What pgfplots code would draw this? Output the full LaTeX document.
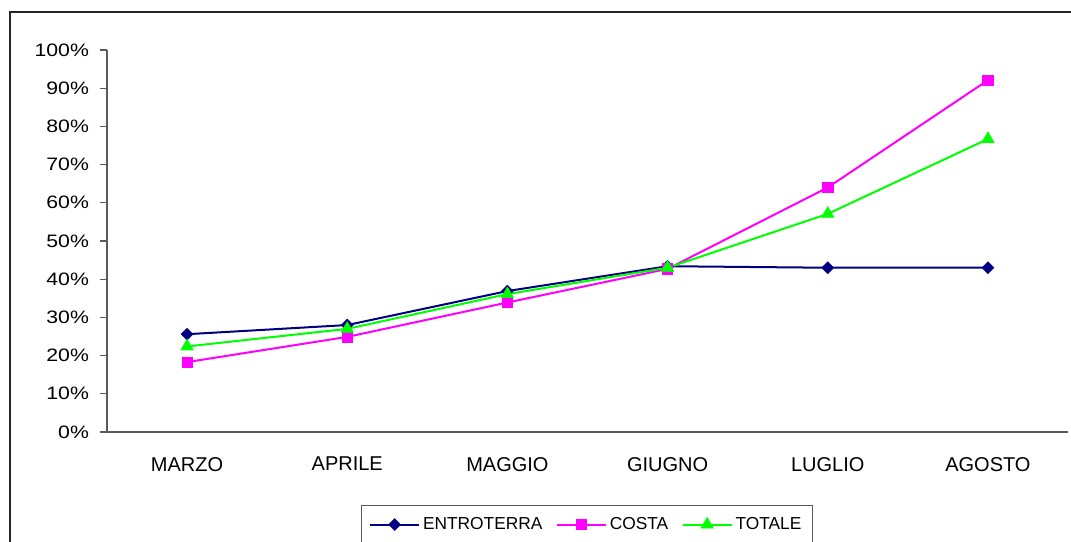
\documentclass[border=0pt]{standalone}
\usepackage{pgfplots}
\pgfplotsset{compat=1.18}
\usepackage{fontspec}
\setmainfont{Liberation Sans}
\definecolor{navyc}{RGB}{0,0,128}
\definecolor{magc}{RGB}{255,0,255}
\definecolor{grnc}{RGB}{0,255,0}
\definecolor{axc}{RGB}{90,90,90}
\pgfplotstableread{
x entro costa totale
0 25.6 18.3 22.4
1 28.0 24.9 27.0
2 36.9 33.9 36.1
3 43.4 42.7 43.0
4 43.0 64.0 57.1
5 43.0 92.1 76.7
}\datatab
\begin{document}
\begin{tikzpicture}
\useasboundingbox (0,0) rectangle (803.25pt,406.5pt);
\begin{scope}
\clip (0,0) rectangle (803.25pt,406.5pt);
\draw[line width=1.1pt,black!85] (7.5pt,-20pt) -- (7.5pt,397.5pt) -- (820pt,397.5pt);
\begin{axis}[
  at={(80.25pt,82.5pt)}, anchor=south west,
  scale only axis, width=720.75pt, height=286.5pt,
  xmin=-0.5, xmax=5.5, ymin=0, ymax=100,
  axis x line*=bottom, axis y line*=left,
  axis line style={axc, line width=0.8pt, -},
  xtick={0,1,2,3,4,5},
  xticklabels={MARZO,APRILE,MAGGIO,GIUGNO,LUGLIO,AGOSTO},
  x tick style={draw=none},
  extra x ticks={-0.5,0.5,1.5,2.5,3.5,4.5,5.5},
  extra x tick labels={},
  extra x tick style={tick style={draw=axc, line width=0.8pt}, major tick length=5.25pt},
  ytick={0,10,...,100},
  yticklabel={\pgfmathprintnumber{\tick}\%},
  y tick style={draw=axc, line width=0.8pt},
  major tick length=5.25pt,
  tick align=outside,
  xticklabel style={font=\fontsize{15}{18}\selectfont, yshift=-10pt},
  yticklabel style={font=\fontsize{13.5}{16}\selectfont, xscale=1.18, xshift=-3.5pt},
  /pgf/number format/assume math mode=true,
  clip=false,
  legend columns=3,
  legend style={at={(0.499,-0.191)}, anchor=north, draw=axc, line width=0.8pt,
    font=\fontsize{13}{15}\selectfont, inner xsep=6pt, inner ysep=7pt,
    /tikz/every even column/.append style={column sep=8pt}},
  legend image code/.code={\draw[mark repeat=2,mark phase=2] plot coordinates {(0pt,0pt)(18.5pt,0pt)(37pt,0pt)};},
  every axis plot/.append style={line width=1.5pt},
]
\addplot[navyc, mark=square*, mark size=3.1pt, mark options={rotate=45, solid, line width=0.5pt}] table[x=x,y=entro] {\datatab};
\addlegendentry{ENTROTERRA}
\addplot[magc, mark=square*, mark size=3.9pt, mark options={solid, line width=0.5pt}] table[x=x,y=costa] {\datatab};
\addlegendentry{COSTA}
\addplot[grnc, mark=triangle*, mark size=5.3pt, mark options={solid, line width=0.5pt}] table[x=x,y=totale] {\datatab};
\addlegendentry{TOTALE}
\end{axis}
\end{scope}
\end{tikzpicture}
\end{document}
